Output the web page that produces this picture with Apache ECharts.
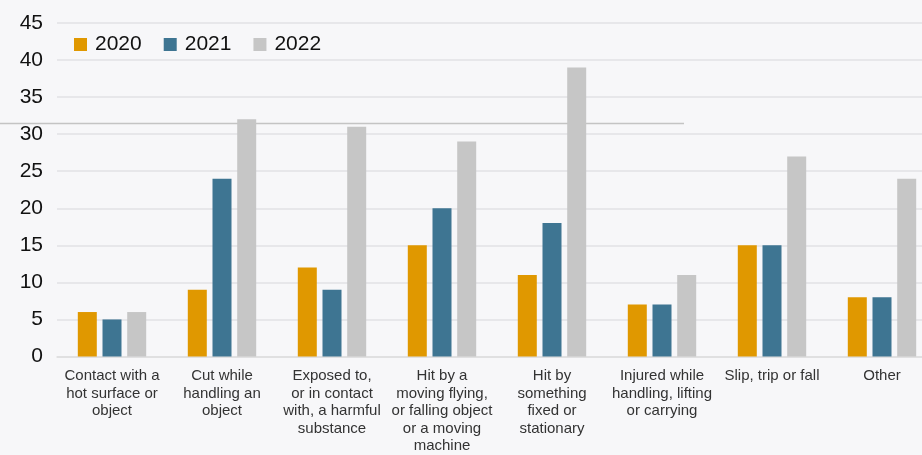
<!DOCTYPE html>
<html>
<head>
<meta charset="utf-8">
<script src="https://cdn.jsdelivr.net/npm/echarts@6/dist/echarts.min.js"></script>
<style>
  html, body { margin: 0; padding: 0; background: #f7f7f9; overflow: hidden; }
  #chart { width: 940px; height: 455px; }
</style>
</head>
<body>
<div id="chart"></div>
<script>
// Injury causes, counts per year
const categories = [
  'Contact with a\nhot surface or\nobject',
  'Cut while\nhandling an\nobject',
  'Exposed to,\nor in contact\nwith, a harmful\nsubstance',
  'Hit by a\nmoving flying,\nor falling object\nor a moving\nmachine',
  'Hit by\nsomething\nfixed or\nstationary',
  'Injured while\nhandling, lifting\nor carrying',
  'Slip, trip or fall',
  'Other'
];
const values2020 = [6, 9, 12, 15, 11, 7, 15, 8];
const values2021 = [5, 24, 9, 20, 18, 7, 15, 8];
const values2022 = [6, 32, 31, 29, 39, 11, 27, 24];
const seriesNames = ['2020', '2021', '2022'];
const yTicks = [0, 5, 10, 15, 20, 25, 30, 35, 40, 45];

const colors = ['#e09800', '#3e7592', '#c6c6c6'];
const font = 'Liberation Sans, Arial, Helvetica, sans-serif';

// the canvas is a little wider than the window, so the plot runs off the right edge
const chart = echarts.init(document.getElementById('chart'), null, { renderer: 'canvas' });

function bar(name, data, color) {
  return {
    name: name,
    type: 'bar',
    data: data,
    barWidth: 19,
    barGap: '30%',
    itemStyle: { color: color },
    emphasis: { disabled: true }
  };
}

chart.setOption({
  backgroundColor: '#f7f7f9',
  animation: false,
  color: colors,
  textStyle: { fontFamily: font },
  grid: { left: 57, right: 3, top: 23, bottom: 98, containLabel: false },
  legend: {
    left: 69,
    top: 29,
    itemWidth: 13,
    itemHeight: 13,
    itemGap: 22,
    icon: 'rect',
    textStyle: { fontSize: 21, color: '#111', fontFamily: font, padding: [0, 0, 0, 3] },
    data: seriesNames
  },
  xAxis: {
    type: 'category',
    data: categories,
    axisTick: { show: false },
    axisLine: { show: true, lineStyle: { color: '#dedede', width: 1.5 } },
    axisLabel: {
      interval: 0,
      margin: 11,
      fontSize: 15,
      lineHeight: 17.5,
      color: '#333',
      fontFamily: font,
      align: 'center',
      verticalAlign: 'top'
    }
  },
  yAxis: {
    type: 'value',
    min: yTicks[0],
    max: yTicks[yTicks.length - 1],
    interval: 5,
    axisLine: { show: false },
    axisTick: { show: false },
    splitLine: { lineStyle: { color: '#e2e2e4', width: 1.5 } },
    axisLabel: { fontSize: 21, color: '#111', margin: 14, fontFamily: font }
  },
  graphic: [{
    type: 'line',
    shape: { x1: 0, y1: 123.5, x2: 684, y2: 123.5 },
    style: { stroke: '#c4c4c4', lineWidth: 1.5 },
    z: 0
  }],
  series: [
    bar(seriesNames[0], values2020, colors[0]),
    bar(seriesNames[1], values2021, colors[1]),
    bar(seriesNames[2], values2022, colors[2])
  ]
});
</script>
</body>
</html>
